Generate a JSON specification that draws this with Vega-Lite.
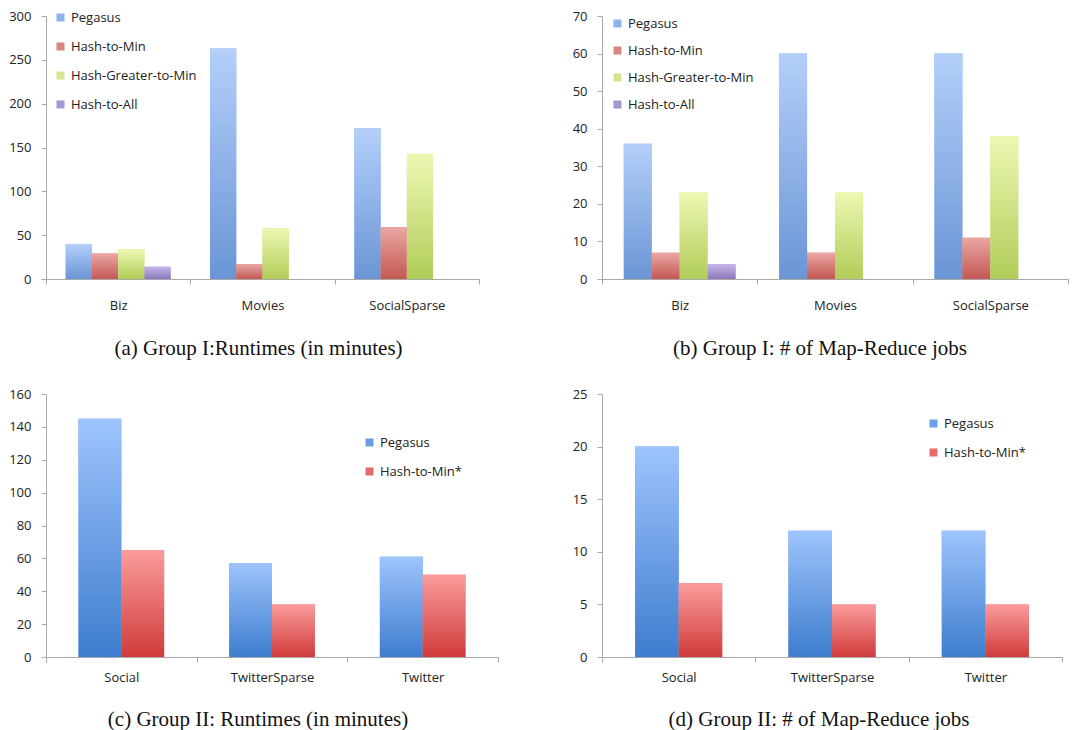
{
  "$schema": "https://vega.github.io/schema/vega-lite/v6.json",
  "background": "white",
  "padding": {"left": 8, "top": 10, "right": 0, "bottom": 0},
  "columns": 2,
  "spacing": {"row": 29, "column": 73},
  "resolve": {"scale": {"color": "independent", "xOffset": "independent", "x": "independent", "y": "independent"}, "legend": {"color": "independent"}},
  "config": {
    "view": {"stroke": null},
    "axis": {"labelFont": "Open Sans", "labelFontSize": 13, "labelColor": "#222222", "domainColor": "#a8a8a8", "tickColor": "#a8a8a8", "grid": false, "title": null, "tickSize": 5},
    "legend": {"labelFont": "Open Sans", "labelFontSize": 13, "labelColor": "#222222", "padding": 0},
    "title": {"font": "Liberation Serif", "fontSize": 21, "fontWeight": "normal", "color": "#111111", "orient": "bottom", "offset": 26}
  },
  "datasets": {
    "a": [
      {"dataset": "Biz", "method": "Pegasus", "value": 40},
      {"dataset": "Biz", "method": "Hash-to-Min", "value": 29},
      {"dataset": "Biz", "method": "Hash-Greater-to-Min", "value": 34},
      {"dataset": "Biz", "method": "Hash-to-All", "value": 14},
      {"dataset": "Movies", "method": "Pegasus", "value": 263},
      {"dataset": "Movies", "method": "Hash-to-Min", "value": 17},
      {"dataset": "Movies", "method": "Hash-Greater-to-Min", "value": 58},
      {"dataset": "SocialSparse", "method": "Pegasus", "value": 172},
      {"dataset": "SocialSparse", "method": "Hash-to-Min", "value": 59},
      {"dataset": "SocialSparse", "method": "Hash-Greater-to-Min", "value": 143}
    ],
    "b": [
      {"dataset": "Biz", "method": "Pegasus", "value": 36},
      {"dataset": "Biz", "method": "Hash-to-Min", "value": 7},
      {"dataset": "Biz", "method": "Hash-Greater-to-Min", "value": 23},
      {"dataset": "Biz", "method": "Hash-to-All", "value": 4},
      {"dataset": "Movies", "method": "Pegasus", "value": 60},
      {"dataset": "Movies", "method": "Hash-to-Min", "value": 7},
      {"dataset": "Movies", "method": "Hash-Greater-to-Min", "value": 23},
      {"dataset": "SocialSparse", "method": "Pegasus", "value": 60},
      {"dataset": "SocialSparse", "method": "Hash-to-Min", "value": 11},
      {"dataset": "SocialSparse", "method": "Hash-Greater-to-Min", "value": 38}
    ],
    "c": [
      {"dataset": "Social", "method": "Pegasus", "value": 145},
      {"dataset": "Social", "method": "Hash-to-Min*", "value": 65},
      {"dataset": "TwitterSparse", "method": "Pegasus", "value": 57},
      {"dataset": "TwitterSparse", "method": "Hash-to-Min*", "value": 32},
      {"dataset": "Twitter", "method": "Pegasus", "value": 61},
      {"dataset": "Twitter", "method": "Hash-to-Min*", "value": 50}
    ],
    "d": [
      {"dataset": "Social", "method": "Pegasus", "value": 20},
      {"dataset": "Social", "method": "Hash-to-Min*", "value": 7},
      {"dataset": "TwitterSparse", "method": "Pegasus", "value": 12},
      {"dataset": "TwitterSparse", "method": "Hash-to-Min*", "value": 5},
      {"dataset": "Twitter", "method": "Pegasus", "value": 12},
      {"dataset": "Twitter", "method": "Hash-to-Min*", "value": 5}
    ]
  },
  "concat": [
    {
      "width": 433, "height": 263,
      "title": {"text": "(a) Group I:Runtimes (in minutes)", "dx": -4},
      "data": {"name": "a"},
      "encoding": {
        "x": {"field": "dataset", "type": "nominal", "sort": null, "scale": {"paddingInner": 0, "paddingOuter": 0}, "axis": {"labelAngle": 0, "tickBand": "extent", "labelPadding": 15}},
        "xOffset": {"field": "method", "type": "nominal", "scale": {"domain": ["Pegasus", "Hash-to-Min", "Hash-Greater-to-Min", "Hash-to-All"], "paddingInner": 0, "paddingOuter": 0.75}},
        "y": {"field": "value", "type": "quantitative", "scale": {"domain": [0, 300], "nice": false}, "axis": {"values": [0, 50, 100, 150, 200, 250, 300], "labelPadding": 10}}
      },
      "layer": [
        {"mark": {"type": "bar"}, "encoding": {"color": {"field": "method", "type": "nominal", "scale": {"domain": ["Pegasus", "Hash-to-Min", "Hash-Greater-to-Min", "Hash-to-All"], "range": ["#8fb2ea", "#d98582", "#d2e68c", "#a996d4"]}, "legend": {"orient": "none", "legendX": 8, "legendY": -5, "title": null, "symbolType": "square", "symbolSize": 64, "rowPadding": 15, "labelOffset": 4, "symbolStrokeWidth": 0}}}},
        {"transform": [{"filter": "datum.method === 'Pegasus'"}], "mark": {"type": "bar", "color": {"gradient": "linear", "x1": 0, "y1": 0, "x2": 0, "y2": 1, "stops": [{"offset": 0, "color": "#b4cffa"}, {"offset": 1, "color": "#6a95d5"}]}}},
        {"transform": [{"filter": "datum.method === 'Hash-to-Min'"}], "mark": {"type": "bar", "color": {"gradient": "linear", "x1": 0, "y1": 0, "x2": 0, "y2": 1, "stops": [{"offset": 0, "color": "#eaa6a3"}, {"offset": 1, "color": "#c45853"}]}}},
        {"transform": [{"filter": "datum.method === 'Hash-Greater-to-Min'"}], "mark": {"type": "bar", "color": {"gradient": "linear", "x1": 0, "y1": 0, "x2": 0, "y2": 1, "stops": [{"offset": 0, "color": "#ecf9b3"}, {"offset": 1, "color": "#b1cc58"}]}}},
        {"transform": [{"filter": "datum.method === 'Hash-to-All'"}], "mark": {"type": "bar", "color": {"gradient": "linear", "x1": 0, "y1": 0, "x2": 0, "y2": 1, "stops": [{"offset": 0, "color": "#c6b6e8"}, {"offset": 1, "color": "#8d79be"}]}}}
      ]
    },
    {
      "width": 466, "height": 263,
      "title": {"text": "(b) Group I: # of Map-Reduce jobs", "dx": -15},
      "data": {"name": "b"},
      "encoding": {
        "x": {"field": "dataset", "type": "nominal", "sort": null, "scale": {"paddingInner": 0, "paddingOuter": 0}, "axis": {"labelAngle": 0, "tickBand": "extent", "labelPadding": 15}},
        "xOffset": {"field": "method", "type": "nominal", "scale": {"domain": ["Pegasus", "Hash-to-Min", "Hash-Greater-to-Min", "Hash-to-All"], "paddingInner": 0, "paddingOuter": 0.78}},
        "y": {"field": "value", "type": "quantitative", "scale": {"domain": [0, 70], "nice": false}, "axis": {"values": [0, 10, 20, 30, 40, 50, 60, 70], "labelPadding": 10}}
      },
      "layer": [
        {"mark": {"type": "bar"}, "encoding": {"color": {"field": "method", "type": "nominal", "scale": {"domain": ["Pegasus", "Hash-to-Min", "Hash-Greater-to-Min", "Hash-to-All"], "range": ["#8fb2ea", "#d98582", "#d2e68c", "#a996d4"]}, "legend": {"orient": "none", "legendX": 9, "legendY": 1, "title": null, "symbolType": "square", "symbolSize": 64, "rowPadding": 13, "labelOffset": 4, "symbolStrokeWidth": 0}}}},
        {"transform": [{"filter": "datum.method === 'Pegasus'"}], "mark": {"type": "bar", "color": {"gradient": "linear", "x1": 0, "y1": 0, "x2": 0, "y2": 1, "stops": [{"offset": 0, "color": "#b4cffa"}, {"offset": 1, "color": "#6a95d5"}]}}},
        {"transform": [{"filter": "datum.method === 'Hash-to-Min'"}], "mark": {"type": "bar", "color": {"gradient": "linear", "x1": 0, "y1": 0, "x2": 0, "y2": 1, "stops": [{"offset": 0, "color": "#eaa6a3"}, {"offset": 1, "color": "#c45853"}]}}},
        {"transform": [{"filter": "datum.method === 'Hash-Greater-to-Min'"}], "mark": {"type": "bar", "color": {"gradient": "linear", "x1": 0, "y1": 0, "x2": 0, "y2": 1, "stops": [{"offset": 0, "color": "#ecf9b3"}, {"offset": 1, "color": "#b1cc58"}]}}},
        {"transform": [{"filter": "datum.method === 'Hash-to-All'"}], "mark": {"type": "bar", "color": {"gradient": "linear", "x1": 0, "y1": 0, "x2": 0, "y2": 1, "stops": [{"offset": 0, "color": "#c6b6e8"}, {"offset": 1, "color": "#8d79be"}]}}}
      ]
    },
    {
      "width": 452, "height": 263,
      "title": {"text": "(c) Group II: Runtimes (in minutes)", "offset": 25, "dx": -14},
      "data": {"name": "c"},
      "encoding": {
        "x": {"field": "dataset", "type": "nominal", "sort": null, "scale": {"paddingInner": 0, "paddingOuter": 0}, "axis": {"labelAngle": 0, "tickBand": "extent", "labelPadding": 9}},
        "xOffset": {"field": "method", "type": "nominal", "scale": {"domain": ["Pegasus", "Hash-to-Min*"], "paddingInner": 0, "paddingOuter": 0.76}},
        "y": {"field": "value", "type": "quantitative", "scale": {"domain": [0, 160], "nice": false}, "axis": {"values": [0, 20, 40, 60, 80, 100, 120, 140, 160], "labelPadding": 10}}
      },
      "layer": [
        {"mark": {"type": "bar"}, "encoding": {"color": {"field": "method", "type": "nominal", "scale": {"domain": ["Pegasus", "Hash-to-Min*"], "range": ["#6a9fe6", "#e56b6b"]}, "legend": {"orient": "none", "legendX": 317, "legendY": 42, "title": null, "symbolType": "square", "symbolSize": 64, "rowPadding": 15, "labelOffset": 4, "symbolStrokeWidth": 0}}}},
        {"transform": [{"filter": "datum.method === 'Pegasus'"}], "mark": {"type": "bar", "color": {"gradient": "linear", "x1": 0, "y1": 0, "x2": 0, "y2": 1, "stops": [{"offset": 0, "color": "#9ec4fd"}, {"offset": 1, "color": "#3e7dce"}]}}},
        {"transform": [{"filter": "datum.method === 'Hash-to-Min*'"}], "mark": {"type": "bar", "color": {"gradient": "linear", "x1": 0, "y1": 0, "x2": 0, "y2": 1, "stops": [{"offset": 0, "color": "#fb9c9c"}, {"offset": 1, "color": "#d03b3b"}]}}}
      ]
    },
    {
      "width": 460, "height": 263,
      "title": {"text": "(d) Group II: # of Map-Reduce jobs", "offset": 25, "dx": -13},
      "data": {"name": "d"},
      "encoding": {
        "x": {"field": "dataset", "type": "nominal", "sort": null, "scale": {"paddingInner": 0, "paddingOuter": 0}, "axis": {"labelAngle": 0, "tickBand": "extent", "labelPadding": 9}},
        "xOffset": {"field": "method", "type": "nominal", "scale": {"domain": ["Pegasus", "Hash-to-Min*"], "paddingInner": 0, "paddingOuter": 0.76}},
        "y": {"field": "value", "type": "quantitative", "scale": {"domain": [0, 25], "nice": false}, "axis": {"values": [0, 5, 10, 15, 20, 25], "labelPadding": 10}}
      },
      "layer": [
        {"mark": {"type": "bar"}, "encoding": {"color": {"field": "method", "type": "nominal", "scale": {"domain": ["Pegasus", "Hash-to-Min*"], "range": ["#6a9fe6", "#e56b6b"]}, "legend": {"orient": "none", "legendX": 325, "legendY": 23, "title": null, "symbolType": "square", "symbolSize": 64, "rowPadding": 15, "labelOffset": 4, "symbolStrokeWidth": 0}}}},
        {"transform": [{"filter": "datum.method === 'Pegasus'"}], "mark": {"type": "bar", "color": {"gradient": "linear", "x1": 0, "y1": 0, "x2": 0, "y2": 1, "stops": [{"offset": 0, "color": "#9ec4fd"}, {"offset": 1, "color": "#3e7dce"}]}}},
        {"transform": [{"filter": "datum.method === 'Hash-to-Min*'"}], "mark": {"type": "bar", "color": {"gradient": "linear", "x1": 0, "y1": 0, "x2": 0, "y2": 1, "stops": [{"offset": 0, "color": "#fb9c9c"}, {"offset": 1, "color": "#d03b3b"}]}}}
      ]
    }
  ]
}
